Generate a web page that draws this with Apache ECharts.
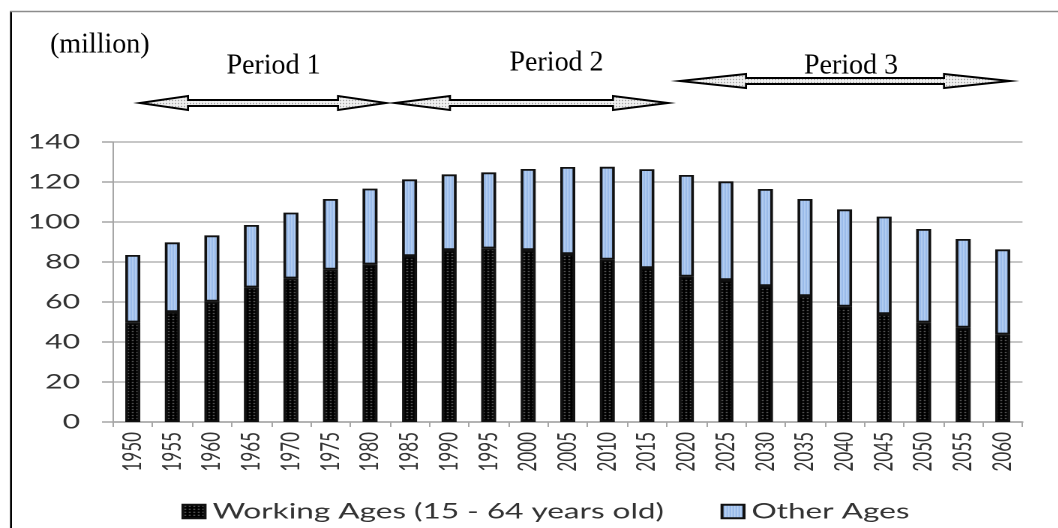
<!DOCTYPE html>
<html>
<head>
<meta charset="utf-8">
<script src="https://cdn.jsdelivr.net/npm/echarts@6/dist/echarts.min.js"></script>
<style>
html,body{margin:0;padding:0;background:#fff;overflow:hidden;width:1058px;height:528px;}
#main{position:absolute;left:0;top:0;width:705.333px;height:528px;transform:scaleX(1.5);transform-origin:0 0;}
</style>
</head>
<body>
<div id="main"></div>
<script>
// ---- data ----
const years = ['1950','1955','1960','1965','1970','1975','1980','1985','1990','1995','2000','2005','2010','2015','2020','2025','2030','2035','2040','2045','2050','2055','2060'];
const workingAges = [49.8,55,60.2,67.3,71.8,76.2,78.8,83,86,86.8,86,84,81.2,77,72.7,71,68,63,57.7,54,49.8,47.2,43.8];
const otherAges   = [33.7,34.8,33.1,31.2,32.9,35.3,37.9,38.3,37.8,38,40.5,43.5,46.4,49.4,50.8,49.3,48.5,48.5,48.6,48.7,46.7,44.3,42.5];
const yTicks = [0,20,40,60,80,100,120,140];
const seriesNames = ['Working Ages (15 - 64 years old)','Other Ages'];
const periodLabels = ['Period 1','Period 2','Period 3'];
const unitLabel = '(million)';

// ---- layout (horizontal stretch like the source) ----
const S = 1.5;

function pattern(w, h, draw){
  const c = document.createElement('canvas'); c.width = w; c.height = h;
  draw(c.getContext('2d')); return {image: c, repeat: 'repeat'};
}
const workingFill = pattern(3,3,g=>{g.fillStyle='#000';g.fillRect(0,0,3,3);g.fillStyle='#8a8a8a';g.fillRect(1,1,1,1);});
const otherFill = pattern(2,1,g=>{g.fillStyle='#bcd4f4';g.fillRect(0,0,1,1);g.fillStyle='#8fb3e6';g.fillRect(1,0,1,1);});
const arrowFill = pattern(3,3,g=>{g.fillStyle='#f2f2f2';g.fillRect(0,0,3,3);g.fillStyle='#555';g.fillRect(1,1,1,1);});

function arrow(x0, x3, c, head){
  const H = 7, h = 3, x1 = x0 + head, x2 = x3 - head;
  return {type:'polygon', shape:{points:[[x0,c],[x1,c-H],[x1,c-h],[x2,c-h],[x2,c-H],[x3,c],[x2,c+H],[x2,c+h],[x1,c+h],[x1,c+H]]},
    style:{fill: arrowFill, stroke:'#000', lineWidth:2, lineJoin:'miter'}};
}
function label(text, x, y, align){
  return {type:'text', x:x, y:y, style:{text:text, fontSize:28, fontFamily:'"Liberation Serif", serif', fill:'#000',
    align:align, textAlign:align, verticalAlign:'middle', textVerticalAlign:'middle'}};
}

const chart = echarts.init(document.getElementById('main'), null, {renderer:'canvas', devicePixelRatio:2});
const axisGray = '#a6a6a6';
chart.setOption({
  animation:false,
  backgroundColor:'#fff',
  grid:{left:113/S, right:(1058-1023)/S, top:142, bottom:106, containLabel:false},
  legend:[
    {data:[seriesNames[0]], left:174/S, top:496, icon:'rect', itemWidth:14.7, itemHeight:13.5,
     textStyle:{fontFamily:'Lato', fontSize:21, color:'#333'}},
    {data:[seriesNames[1]], left:713/S, top:496, icon:'rect', itemWidth:14.7, itemHeight:13.5,
     textStyle:{fontFamily:'Lato', fontSize:21, color:'#333'}}
  ],
  xAxis:{type:'category', data:years, boundaryGap:true,
    axisLine:{show:true, lineStyle:{color:axisGray, width:1.5}},
    axisTick:{show:true, alignWithLabel:false, length:5, lineStyle:{color:axisGray, width:1}},
    axisLabel:{rotate:90, margin:10, fontFamily:'Lato', fontSize:17, color:'#333', interval:0},
    splitLine:{show:false}},
  yAxis:{type:'value', min:yTicks[0], max:yTicks[yTicks.length-1], interval:yTicks[1]-yTicks[0],
    axisLine:{show:true, lineStyle:{color:axisGray, width:1}},
    axisTick:{show:true, length:11/S, lineStyle:{color:axisGray, width:1.5}},
    axisLabel:{margin:22, fontFamily:'Lato', fontSize:20, color:'#333'},
    splitLine:{show:true, lineStyle:{color:'#b5b5b5', width:1.5}}},
  series:[
    {name:seriesNames[0], type:'bar', stack:'pop', data:workingAges, barWidth:10,
     itemStyle:{color:workingFill, borderColor:'#111', borderWidth:1.8}},
    {name:seriesNames[1], type:'bar', stack:'pop', data:otherAges, barWidth:10,
     itemStyle:{color:otherFill, borderColor:'#111', borderWidth:1.8}}
  ],
  graphic:[{
    type:'group', x:0, y:0, scaleX:1/S, silent:true,
    children:[
      {type:'line', shape:{x1:11, y1:11, x2:11, y2:528}, style:{stroke:'#000', lineWidth:2}},
      {type:'line', shape:{x1:10, y1:11.5, x2:1058, y2:11.5}, style:{stroke:'#8c8c8c', lineWidth:1.5}},
      label(unitLabel, 50, 45, 'left'),
      label(periodLabels[0], 273.5, 66, 'center'),
      label(periodLabels[1], 556.5, 63, 'center'),
      label(periodLabels[2], 851, 66, 'center'),
      arrow(140, 386, 103, 48),
      arrow(395, 668, 103, 55),
      arrow(680, 1010, 81, 66)
    ]
  }]
});
</script>
</body>
</html>
